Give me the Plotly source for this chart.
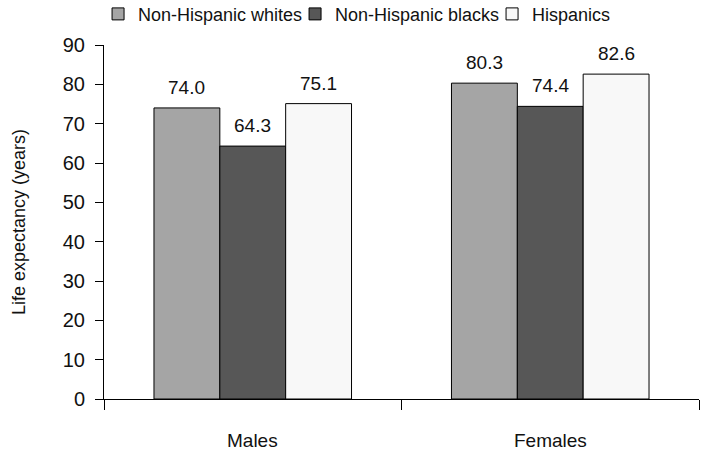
import plotly.graph_objects as go

categories = ["Males", "Females"]
series_names = ["Non-Hispanic whites", "Non-Hispanic blacks", "Hispanics"]
whites = [74.0, 80.3]
blacks = [64.3, 74.4]
hispanics = [75.1, 82.6]
y_ticks = [0, 10, 20, 30, 40, 50, 60, 70, 80, 90]

series_values = [whites, blacks, hispanics]
colors = ["#a5a5a5", "#575757", "#f8f8f8"]
FONT = "Liberation Sans, Arial, sans-serif"
TXT = "#111111"
bargap = 0.336

xs = list(range(len(categories)))
fig = go.Figure()
for name, vals, col in zip(series_names, series_values, colors):
    fig.add_trace(go.Bar(
        x=xs, y=vals, name=name,
        marker=dict(color=col, line=dict(color="#000000", width=1)),
    ))

# value labels
n = len(series_values)
w = (1 - bargap) / n
for j, vals in enumerate(series_values):
    for i, v in enumerate(vals):
        fig.add_annotation(
            x=i + (j - (n - 1) / 2) * w, y=v, text=f"{v:.1f}",
            showarrow=False, yanchor="bottom", yshift=8,
            font=dict(family=FONT, size=19, color=TXT),
        )

# category labels
for i, c in enumerate(categories):
    fig.add_annotation(
        x=i, y=0, yref="y", text=c, showarrow=False,
        yanchor="middle", yshift=-41,
        font=dict(family=FONT, size=19, color=TXT),
    )

fig.update_layout(
    width=703, height=458,
    barmode="group", bargap=bargap, bargroupgap=0,
    plot_bgcolor="white", paper_bgcolor="white",
    margin=dict(l=104, r=4, t=45, b=59, autoexpand=False),
    font=dict(family=FONT, size=18, color=TXT),
    legend=dict(
        orientation="h", x=-0.01, xanchor="left", y=1.087, yanchor="middle",
        font=dict(family=FONT, size=18, color=TXT),
        entrywidth=152, itemwidth=30, traceorder="normal",
        bgcolor="rgba(0,0,0,0)",
    ),
    showlegend=True,
)
fig.update_xaxes(
    range=[-0.5, len(categories) - 0.5],
    tickvals=[k - 0.5 for k in range(len(categories) + 1)],
    ticktext=["" for _ in range(len(categories) + 1)],
    ticks="outside", ticklen=10, tickcolor="#000000", tickwidth=1,
    showline=True, linecolor="#000000", linewidth=1,
    showgrid=False, zeroline=False,
)
fig.update_yaxes(
    range=[0, 90], tickvals=y_ticks,
    ticks="outside", ticklen=8, tickcolor="#000000", tickwidth=1,
    ticklabelstandoff=6,
    showline=True, linecolor="#000000", linewidth=1,
    showgrid=False, zeroline=False,
    tickfont=dict(family=FONT, size=20, color=TXT),
    title=dict(text="Life expectancy (years)", font=dict(family=FONT, size=18, color=TXT), standoff=32),
)

fig.write_html("out.html", config={"displayModeBar": False},
               post_script="document.body.style.margin='0px';")
